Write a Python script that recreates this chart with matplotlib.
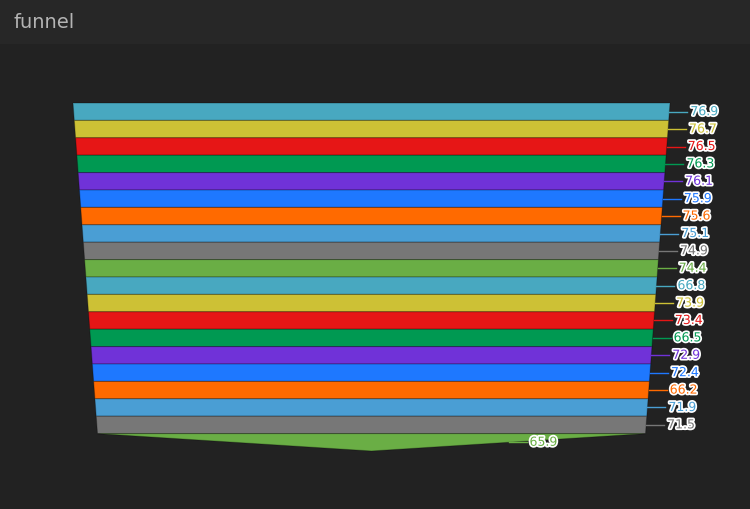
import matplotlib
matplotlib.use('Agg')
import numpy as np
from matplotlib import pyplot as plt
from matplotlib.patches import Polygon, Rectangle
import matplotlib.patheffects as pe

# data, top to bottom as drawn
values = [76.9, 76.7, 76.5, 76.3, 76.1, 75.9, 75.6, 75.1, 74.9, 74.4,
          66.8, 73.9, 73.4, 66.5, 72.9, 72.4, 66.2, 71.9, 71.5, 65.9]
palette = ['#48a8c0', '#cdc135', '#e61616', '#009952', '#7032d8',
           '#1e78ff', '#ff6a00', '#4a9ed4', '#777777', '#6aae45']

fig = plt.figure(figsize=(7.5, 5.1), dpi=100)
fig.patch.set_facecolor('#222222')
ax = fig.add_axes([0, 0, 1, 1])
ax.set_xlim(0, 750)
ax.set_ylim(510, 0)
ax.axis('off')

# header bar
ax.add_patch(Rectangle((0, 0), 750, 45, color='#272727', lw=0))
ax.text(13, 23, 'funnel', color='#b4b4b4', fontsize=14, va='center', ha='left')

# funnel layout
n = len(values)
cx = 371.5
top, bottom = 104, 452
h = (bottom - top) / n
w_top, w_last = 597, 548
widths = list(np.linspace(w_top, w_last, n)) + [0]

for i, v in enumerate(values):
    col = palette[i % len(palette)]
    y0 = top + i * h
    y1 = y0 + h
    wa, wb = widths[i], widths[i + 1]
    pts = [(cx - wa / 2, y0), (cx + wa / 2, y0), (cx + wb / 2, y1), (cx - wb / 2, y1)]
    ax.add_patch(Polygon(pts, closed=True, facecolor=col,
                         edgecolor=(0, 0, 0, 0.25), lw=0.8))
    # label
    ym = (y0 + y1) / 2
    xe = cx + (wa + wb) / 4
    ax.plot([xe, xe + 18], [ym, ym], color=col, lw=1)
    t = ax.text(xe + 21, ym, '%.1f' % v, color=col, fontsize=9,
                va='center', ha='left')
    t.set_path_effects([pe.withStroke(linewidth=2.5, foreground='white')])

plt.savefig('out.png', dpi=100, facecolor=fig.get_facecolor())
